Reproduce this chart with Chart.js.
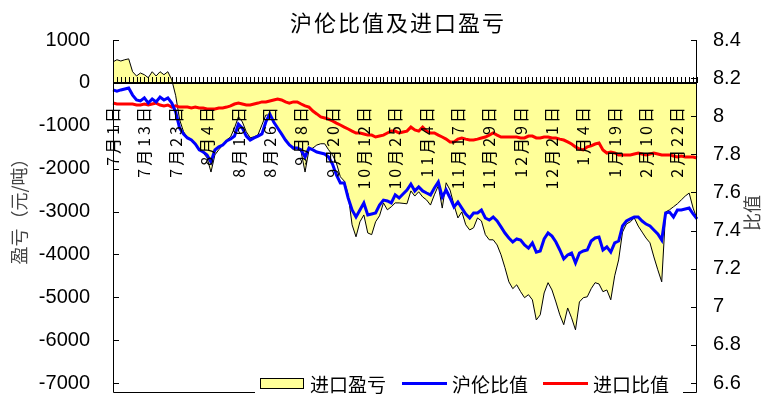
<!DOCTYPE html>
<html>
<head>
<meta charset="utf-8">
<script src="https://cdn.jsdelivr.net/npm/chart.js@4.4.1/dist/chart.umd.min.js"></script>
<style>
  html, body { margin: 0; padding: 0; background: #fff; }
</style>
</head>
<body>
<canvas id="ratioChart" width="763" height="394"></canvas>
<script>
// one label every 8 trading days
const dateTicks = ["7月1日", "7月13日", "7月23日", "8月4日", "8月16日", "8月26日", "9月8日", "9月20日",
  "10月12日", "10月25日", "11月4日", "11月17日", "11月29日", "12月9日", "12月21日", "1月4日",
  "1月19日", "2月10日", "2月22日"];
const tickEvery = 8;

// 进口盈亏, 元/吨
const profit = [
  490, 540, 510, 540, 560, 260, 160, 230, 190, 120,
  260, 160, 260, 190, 260, 70, -300, -860, -1140, -1280,
  -1330, -1450, -1560, -1630, -1750, -2080, -1680, -1560, -1450, -1330,
  -1260, -1050, -790, -910, -1140, -1280, -1260, -1210, -980, -750,
  -750, -910, -1050, -1210, -1330, -1450, -1560, -1520, -1610, -2080,
  -1560, -1520, -1450, -1420, -1420, -1560, -1680, -1870, -2190, -2290,
  -2610, -3310, -3590, -3240, -3080, -3500, -3540, -3240, -3100, -2800,
  -2960, -2890, -2800, -2800, -2810,
  -2820, -2520, -2640, -2540, -2660, -2730, -2850, -2610, -2400, -2920,
  -2330, -2500, -2850, -3150, -3010, -3310, -3430, -3380, -3150, -3220,
  -3540, -3660, -3660, -3780, -4010, -4310, -4640, -4800, -4710, -4870,
  -5010, -4940, -5060, -5530, -5410, -4900, -4660, -4830, -5110, -5410,
  -5640, -5250, -5480, -5760, -5110, -5010, -4990, -4800, -4660, -4690,
  -4870, -4830, -5060, -4500, -4130, -3480, -3290, -3240, -3150, -3340,
  -3480, -3620, -3730, -4060, -4360, -4640, -3010, -2960, -2890, -2820,
  -2730, -2640, -2570, -2920, -3170
];

// 沪伦比值
const shLmeRatio = [
  8.138, 8.132, 8.138, 8.143, 8.148, 8.111, 8.085, 8.080, 8.096, 8.069,
  8.090, 8.075, 8.101, 8.085, 8.096, 8.069, 8.022, 7.938, 7.907, 7.886,
  7.875, 7.854, 7.823, 7.812, 7.797, 7.760, 7.823, 7.839, 7.849, 7.870,
  7.880, 7.896, 7.959, 7.938, 7.896, 7.875, 7.886, 7.896, 7.907, 7.970,
  8.012, 7.970, 7.938, 7.907, 7.875, 7.849, 7.833, 7.833, 7.823, 7.786,
  7.833, 7.823, 7.812, 7.807, 7.802, 7.786, 7.749, 7.692, 7.650, 7.650,
  7.571, 7.508, 7.471, 7.508, 7.545, 7.482, 7.487, 7.492, 7.534, 7.560,
  7.555, 7.545, 7.587, 7.571, 7.592,
  7.613, 7.644, 7.608, 7.629, 7.608, 7.597, 7.587, 7.623, 7.655, 7.576,
  7.613, 7.571, 7.524, 7.550, 7.518, 7.487, 7.466, 7.492, 7.492, 7.508,
  7.466, 7.455, 7.471, 7.450, 7.419, 7.387, 7.361, 7.340, 7.356, 7.350,
  7.324, 7.308, 7.335, 7.287, 7.293, 7.356, 7.387, 7.371, 7.340, 7.298,
  7.251, 7.272, 7.282, 7.230, 7.282, 7.293, 7.298, 7.345, 7.361, 7.366,
  7.298, 7.314, 7.287, 7.335, 7.345, 7.424, 7.450, 7.461, 7.471, 7.471,
  7.450, 7.434, 7.424, 7.403, 7.382, 7.350, 7.492, 7.497, 7.471, 7.508,
  7.508, 7.513, 7.518, 7.487, 7.461
];

// 进口比值
const importRatio = [
  8.069, 8.064, 8.064, 8.064, 8.064, 8.064, 8.059, 8.059, 8.064, 8.059,
  8.064, 8.069, 8.059, 8.054, 8.059, 8.048, 8.054, 8.048, 8.048, 8.048,
  8.043, 8.048, 8.043, 8.043, 8.038, 8.038, 8.038, 8.043, 8.043, 8.048,
  8.054, 8.064, 8.069, 8.064, 8.059, 8.059, 8.064, 8.069, 8.075, 8.075,
  8.080, 8.085, 8.090, 8.085, 8.075, 8.069, 8.075, 8.075, 8.064, 8.054,
  8.048, 8.027, 8.012, 7.996, 7.991, 7.985, 7.975, 7.964, 7.954, 7.943,
  7.933, 7.922, 7.912, 7.912, 7.907, 7.901, 7.901, 7.891, 7.896, 7.901,
  7.912, 7.922, 7.922, 7.912, 7.917,
  7.922, 7.943, 7.928, 7.922, 7.943, 7.922, 7.912, 7.912, 7.901, 7.891,
  7.880, 7.865, 7.865, 7.880, 7.886, 7.880, 7.875, 7.875, 7.880, 7.886,
  7.891, 7.901, 7.912, 7.901, 7.891, 7.891, 7.891, 7.891, 7.891, 7.886,
  7.886, 7.896, 7.896, 7.886, 7.886, 7.891, 7.891, 7.886, 7.886, 7.880,
  7.875, 7.865, 7.854, 7.839, 7.828, 7.823, 7.839, 7.844, 7.854, 7.859,
  7.823, 7.807, 7.812, 7.807, 7.797, 7.797, 7.797, 7.797, 7.802, 7.807,
  7.802, 7.797, 7.802, 7.807, 7.802, 7.797, 7.797, 7.797, 7.791, 7.786,
  7.791, 7.786, 7.786, 7.786, 7.781
];

const labels = profit.map((_, i) => i % tickEvery === 0 ? (dateTicks[i / tickEvery] || "") : "");

const cjk = '"Noto Sans CJK SC", sans-serif';
const num = '"Liberation Sans", Arial, sans-serif';

// value axes keep a fixed width and add no vertical padding
const fixWidth = w => s => {
  s.width = w;
  s.paddingTop = 0;
  s.paddingBottom = 0;
};

// axes, frame, date labels, titles and legend are painted by hand
const decorations = {
  id: "decorations",
  afterDatasetsDraw(chart) {
    const { ctx, chartArea: a, scales: { x, y, y1 } } = chart;
    const frameBottom = a.bottom + 9.5;
    const y0 = Math.round(y.getPixelForValue(0));
    ctx.save();
    ctx.strokeStyle = "#000";
    ctx.lineWidth = 1;
    ctx.beginPath();
    ctx.moveTo(a.left + 0.5, a.top);
    ctx.lineTo(a.left + 0.5, frameBottom);
    ctx.lineTo(a.right - 0.5, frameBottom);
    ctx.lineTo(a.right - 0.5, a.top);
    y.ticks.forEach(t => {
      const py = Math.round(y.getPixelForValue(t.value)) + 0.5;
      ctx.moveTo(a.left, py);
      ctx.lineTo(a.left + 6, py);
    });
    y1.ticks.forEach(t => {
      const py = Math.round(y1.getPixelForValue(t.value)) + 0.5;
      ctx.moveTo(a.right, py);
      ctx.lineTo(a.right - 6, py);
    });
    labels.forEach((_, i) => {
      const px = Math.round(x.getPixelForValue(i)) + 0.5;
      ctx.moveTo(px, y0);
      ctx.lineTo(px, y0 - 6);
    });
    ctx.stroke();

    ctx.lineWidth = 2;
    ctx.beginPath();
    ctx.moveTo(a.left, y0);
    ctx.lineTo(a.right, y0);
    ctx.stroke();

    ctx.fillStyle = "#000";
    ctx.font = "16px " + cjk;
    ctx.letterSpacing = "3px";
    ctx.textAlign = "right";
    ctx.textBaseline = "middle";
    labels.forEach((s, i) => {
      if (!s) return;
      ctx.save();
      ctx.translate(x.getPixelForValue(i), y0 + 21);
      ctx.rotate(-Math.PI / 2);
      ctx.fillText(s, 0, 0);
      ctx.restore();
    });
    ctx.restore();
  },
  afterDraw(chart) {
    const { ctx, chartArea: a } = chart;
    ctx.save();
    ctx.textBaseline = "middle";

    // chart title
    ctx.fillStyle = "#000";
    ctx.font = "22px " + cjk;
    ctx.letterSpacing = "2px";
    ctx.textAlign = "center";
    ctx.fillText("沪伦比值及进口盈亏", 398, 23);

    // axis titles
    ctx.letterSpacing = "0px";
    ctx.fillStyle = "#444";
    ctx.font = "18px " + cjk;
    ctx.save();
    ctx.translate(19, 207);
    ctx.rotate(-Math.PI / 2);
    ctx.fillText("盈亏（元/吨）", 0, 0);
    ctx.restore();
    ctx.save();
    ctx.translate(752, 213);
    ctx.rotate(-Math.PI / 2);
    ctx.fillText("比值", 0, 0);
    ctx.restore();

    // legend over the bottom of the frame
    const ly = a.bottom + 0.5;
    ctx.fillStyle = "#fff";
    ctx.fillRect(255, ly - 10, 428, 24);
    ctx.font = "19px " + cjk;
    ctx.textAlign = "left";
    const items = chart.data.datasets;
    const slots = [260, 402, 543];
    items.forEach((ds, k) => {
      const sx = slots[k];
      if (ds.fill) {
        ctx.fillStyle = ds.backgroundColor;
        ctx.fillRect(sx + 0.5, ly - 5, 43, 10);
        ctx.strokeStyle = "#000";
        ctx.lineWidth = 1;
        ctx.strokeRect(sx + 0.5, ly - 5, 43, 10);
      } else {
        ctx.strokeStyle = ds.borderColor;
        ctx.lineWidth = 3;
        ctx.beginPath();
        ctx.moveTo(sx, ly);
        ctx.lineTo(sx + 45, ly);
        ctx.stroke();
      }
      ctx.fillStyle = "#000";
      ctx.fillText(ds.label, sx + 50, ly + 1);
    });
    ctx.restore();
  }
};

new Chart(document.getElementById("ratioChart"), {
  type: "line",
  data: {
    labels: labels,
    datasets: [
      {
        label: "进口盈亏",
        data: profit,
        yAxisID: "y",
        fill: "origin",
        backgroundColor: "#FFFF99",
        borderColor: "#000",
        borderWidth: 1,
        pointRadius: 0,
        order: 3
      },
      {
        label: "沪伦比值",
        data: shLmeRatio,
        yAxisID: "y1",
        fill: false,
        borderColor: "#0000FF",
        borderWidth: 3,
        pointRadius: 0,
        order: 1
      },
      {
        label: "进口比值",
        data: importRatio,
        yAxisID: "y1",
        fill: false,
        borderColor: "#FF0000",
        borderWidth: 3,
        pointRadius: 0,
        order: 2
      }
    ]
  },
  options: {
    responsive: false,
    animation: false,
    layout: { padding: { top: 40, bottom: 11, left: 0, right: 0 } },
    plugins: {
      legend: { display: false },
      title: { display: false },
      tooltip: { enabled: false }
    },
    scales: {
      x: {
        display: false
      },
      y: {
        position: "left",
        min: -7000,
        max: 1000,
        grid: { display: false, drawTicks: false },
        border: { display: false },
        ticks: {
          stepSize: 1000,
          color: "#000",
          padding: 23,
          font: { family: num, size: 20, lineHeight: 1 },
          callback: v => String(v)
        },
        afterFit: fixWidth(113)
      },
      y1: {
        position: "right",
        min: 6.6,
        max: 8.4,
        grid: { display: false, drawTicks: false },
        border: { display: false },
        ticks: {
          stepSize: 0.2,
          color: "#000",
          padding: 16,
          font: { family: num, size: 20, lineHeight: 1 },
          callback: v => String(Math.round(v * 10) / 10)
        },
        afterFit: fixWidth(66)
      }
    }
  },
  plugins: [decorations]
});
</script>
</body>
</html>
